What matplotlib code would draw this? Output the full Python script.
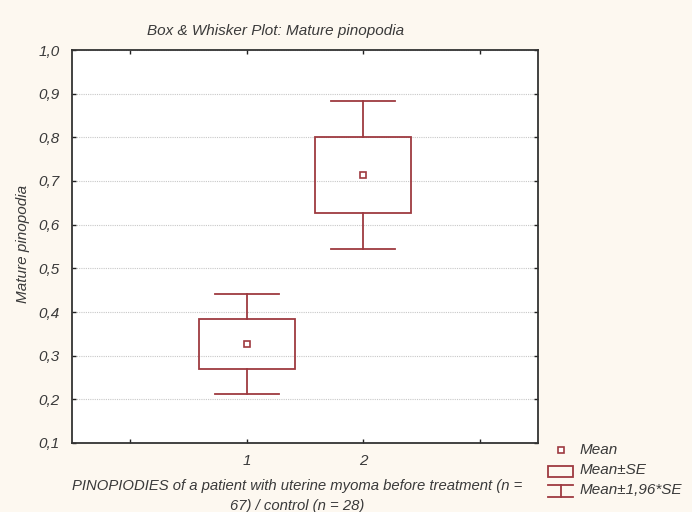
import matplotlib
matplotlib.use("Agg")
import matplotlib.pyplot as plt
from matplotlib.patches import Rectangle
from matplotlib.lines import Line2D

plt.rcParams['font.family'] = ['Liberation Sans', 'DejaVu Sans']

# Data
groups = ["1", "2"]
positions = [1, 2]
means = [0.327, 0.713]
se_low = [0.270, 0.627]
se_high = [0.385, 0.801]
ci_low = [0.213, 0.544]
ci_high = [0.442, 0.884]
yticks = [0.1, 0.2, 0.3, 0.4, 0.5, 0.6, 0.7, 0.8, 0.9, 1.0]
ytick_labels = ["0,1", "0,2", "0,3", "0,4", "0,5", "0,6", "0,7", "0,8", "0,9", "1,0"]
xticks = [0, 1, 2, 3]
xtick_labels = ["", "1", "2", ""]

red = '#9e3a40'
bg = '#fdf8f0'
txt = '#3a3a3a'

W, H = 692, 512
fig = plt.figure(figsize=(W / 100, H / 100), dpi=100, facecolor=bg)
ax = fig.add_axes([72 / W, 1 - 443 / H, (538 - 72) / W, (443 - 50) / H])
ax.set_facecolor('white')

box_w = 0.82
cap_w = 0.55
for x, m, sl, sh, cl, ch in zip(positions, means, se_low, se_high, ci_low, ci_high):
    ax.add_patch(Rectangle((x - box_w / 2, sl), box_w, sh - sl, fill=False,
                           edgecolor=red, linewidth=1.3, zorder=3))
    ax.plot([x, x], [sh, ch], color=red, lw=1.3, zorder=3)
    ax.plot([x, x], [cl, sl], color=red, lw=1.3, zorder=3)
    ax.plot([x - cap_w / 2, x + cap_w / 2], [ch, ch], color=red, lw=1.3, zorder=3)
    ax.plot([x - cap_w / 2, x + cap_w / 2], [cl, cl], color=red, lw=1.3, zorder=3)
    ax.plot([x], [m], marker='s', ms=4, mfc='white', mec=red, mew=1.2, zorder=4)

ax.set_xlim(-0.5, 3.5)
ax.set_ylim(0.1, 1.0)
ax.set_yticks(yticks)
ax.set_yticklabels(ytick_labels)
ax.set_xticks(xticks)
ax.set_xticklabels(xtick_labels)
for lab in ax.get_xticklabels() + ax.get_yticklabels():
    lab.set_fontstyle('italic')
    lab.set_fontsize(11)
    lab.set_color(txt)
ax.tick_params(direction='in', length=3, width=1, top=True, right=True,
               color='#222222')
ax.tick_params(axis='x', pad=8)
ax.tick_params(axis='y', pad=9)
for s in ax.spines.values():
    s.set_color('#333333')
    s.set_linewidth(1.3)
ax.yaxis.grid(True, linestyle=(0, (1, 1)), color='#c8c8c8', linewidth=0.8)
ax.set_axisbelow(True)

fig.text(276 / W, 1 - 31 / H, "Box & Whisker Plot: Mature pinopodia", ha='center', va='center',
         fontsize=11, style='italic', color=txt)
fig.text(23 / W, 1 - 244 / H, "Mature pinopodia", rotation=90, ha='center', va='center',
         fontsize=11, style='italic', color=txt)
fig.text(297 / W, 1 - 486 / H,
         "PINOPIODIES of a patient with uterine myoma before treatment (n =",
         ha='center', va='center', fontsize=10.7, style='italic', color=txt)
fig.text(297 / W, 1 - 506 / H, "67) / control (n = 28)",
         ha='center', va='center', fontsize=10.7, style='italic', color=txt)

# Legend (drawn in pixel-based figure coordinates)
def fx(px):
    return px / W

def fy(py):
    return 1 - py / H

lx = 561
fig.add_artist(Line2D([fx(lx)], [fy(450)], marker='s', ms=4, mfc='white', mec=red, mew=1.2,
                      transform=fig.transFigure))
fig.add_artist(Rectangle((fx(548), fy(477)), fx(25), 11 / H, fill=False,
                         edgecolor=red, linewidth=1.3, transform=fig.transFigure))
fig.add_artist(Line2D([fx(548), fx(573)], [fy(485), fy(485)], color=red, lw=1.3,
                      transform=fig.transFigure))
fig.add_artist(Line2D([fx(lx), fx(lx)], [fy(485), fy(497)], color=red, lw=1.3,
                      transform=fig.transFigure))
fig.add_artist(Line2D([fx(548), fx(573)], [fy(497), fy(497)], color=red, lw=1.3,
                      transform=fig.transFigure))
for yy, t in [(450, "Mean"), (470, "Mean±SE"), (490, "Mean±1,96*SE")]:
    fig.text(fx(580), fy(yy), t, ha='left', va='center', fontsize=11, style='italic', color=txt)

fig.savefig("out.png", dpi=100, facecolor=bg)
